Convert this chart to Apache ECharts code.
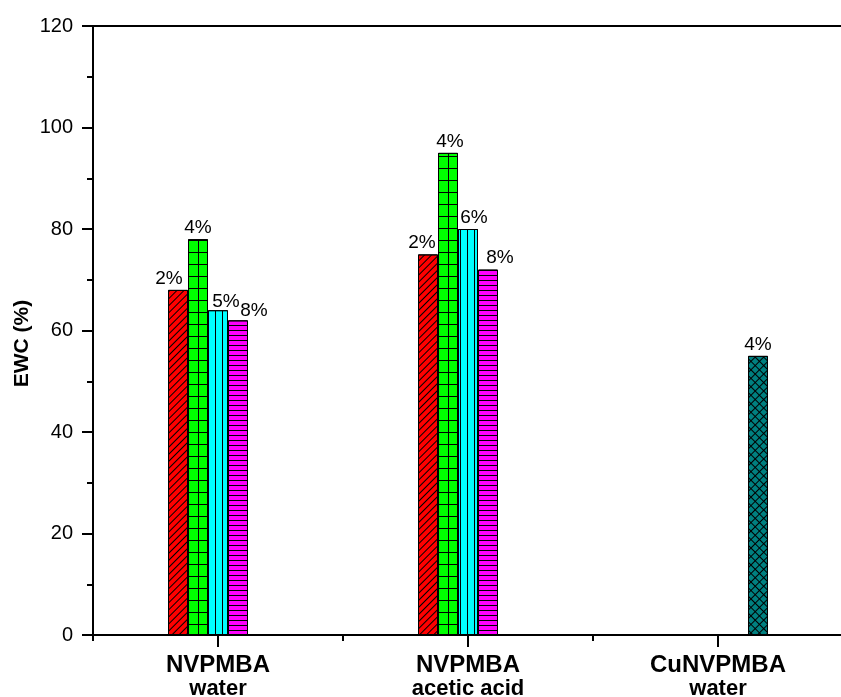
<!DOCTYPE html>
<html><head><meta charset="utf-8">
<script src="https://cdn.jsdelivr.net/npm/echarts@6/dist/echarts.min.js"></script>
<style>html,body{margin:0;padding:0;background:#fff}#c{width:841px;height:697px}</style>
</head><body><div id="c"></div>
<script>
// ---- data ----
const groupTicks = [1, 3, 5];
const groupNames = ['NVPMBA', 'NVPMBA', 'CuNVPMBA'];
const groupMedia = ['water', 'acetic acid', 'water'];
const yTicks = [0, 20, 40, 60, 80, 100, 120];

const redX = [0.68, 2.68];   const redY = [68, 75];   const redLabels = ['2%', '2%'];
const greenX = [0.84, 2.84]; const greenY = [78, 95]; const greenLabels = ['4%', '4%'];
const cyanX = [1.0, 3.0];    const cyanY = [64, 80];  const cyanLabels = ['5%', '6%'];
const magX = [1.16, 3.16];   const magY = [62, 72];   const magLabels = ['8%', '8%'];
const tealX = [5.32];        const tealY = [55];      const tealLabels = ['4%'];

// ---- styling ----
const FONT = "'Liberation Sans', Arial, sans-serif";
const labelShift = {
  red: [[-9, 0], [-6, 0]],
  green: [[0, 0], [2, 0]],
  cyan: [[8, 3], [6, 0]],
  mag: [[16, 2], [12, 0]],
  teal: [[0, 0]]
};

function mk(name, xs, ys, labels, color, decal, shifts) {
  return {
    type: 'bar', name: name, xAxisIndex: 0, yAxisIndex: 0,
    barWidth: 20, barGap: '-100%',
    itemStyle: { color: color, borderColor: '#000', borderWidth: 1, decal: decal },
    label: { show: true, position: 'top', distance: 2, color: '#000', fontSize: 19, fontFamily: FONT },
    data: xs.map((x, i) => ({ value: [x, ys[i]], label: { formatter: labels[i], offset: shifts[i] } }))
  };
}

const decalBase = { symbol: 'rect', symbolSize: 1, color: '#000', maxTileWidth: 512, maxTileHeight: 512 };
const decals = {
  red: Object.assign({}, decalBase, { dashArrayX: [1, 0], dashArrayY: [1, 4], rotation: -Math.PI / 4 }),
  green: Object.assign({}, decalBase, { dashArrayX: [[10, 0], [0, 8, 1, 1]], dashArrayY: [1, 0, 11, 0], rotation: 0 }),
  cyan: Object.assign({}, decalBase, { dashArrayX: [0, 5, 1, 1], dashArrayY: [1, 0], rotation: 0 }),
  mag: Object.assign({}, decalBase, { dashArrayX: [1, 0], dashArrayY: [1, 4], rotation: 0 }),
  teal: Object.assign({}, decalBase, { dashArrayX: [[6, 0], [1, 5]], dashArrayY: [1, 0, 5, 0], rotation: Math.PI / 4 })
};

const chart = echarts.init(document.getElementById('c'), null, { renderer: 'canvas' });
const axisLineStyle = { color: '#000', width: 2 };

chart.setOption({
  animation: false,
  backgroundColor: '#fff',
  grid: { left: 93, top: 26, right: -2, bottom: 62, show: false, containLabel: false, outerBoundsMode: 'none' },
  xAxis: [
    {
      type: 'value', min: 0, max: 6, interval: 1, position: 'bottom',
      axisLine: { show: false }, axisTick: { show: false }, splitLine: { show: false },
      axisLabel: {
        margin: 17, color: '#000', fontFamily: FONT,
        formatter: function (v) {
          const i = groupTicks.indexOf(Math.round(v));
          if (i < 0 || Math.abs(v - Math.round(v)) > 1e-6) return '';
          return '{a|' + groupNames[i] + '}\n{b|' + groupMedia[i] + '}';
        },
        rich: {
          a: { fontSize: 24, fontWeight: 'bold', fontFamily: FONT, color: '#000', lineHeight: 26 },
          b: { fontSize: 22, fontWeight: 'bold', fontFamily: FONT, color: '#000', lineHeight: 22 }
        }
      }
    },
    {
      type: 'value', min: 0, max: 6, interval: 2, position: 'bottom',
      axisLine: { show: true, lineStyle: axisLineStyle },
      axisTick: { show: true, inside: false, length: 6, lineStyle: axisLineStyle },
      minorTick: { show: true, splitNumber: 2, length: 12, lineStyle: axisLineStyle },
      axisLabel: { show: false }, splitLine: { show: false }
    },
    {
      type: 'value', min: 0, max: 6, position: 'top',
      axisLine: { show: true, lineStyle: axisLineStyle },
      axisTick: { show: false }, axisLabel: { show: false }, splitLine: { show: false }
    }
  ],
  yAxis: {
    type: 'value', min: yTicks[0], max: yTicks[yTicks.length - 1], interval: yTicks[1] - yTicks[0],
    name: 'EWC (%)', nameLocation: 'middle', nameGap: 60, nameMoveOverlap: false,
    nameTextStyle: { fontSize: 21, fontWeight: 'bold', fontFamily: FONT, color: '#000', padding: [0, 26, 0, 0] },
    axisLine: { show: true, lineStyle: axisLineStyle },
    axisTick: { show: true, inside: false, length: 11, lineStyle: axisLineStyle },
    minorTick: { show: true, splitNumber: 2, length: 6, lineStyle: axisLineStyle },
    splitLine: { show: false },
    axisLabel: { fontSize: 20, color: '#000', fontFamily: FONT, margin: 20 }
  },
  series: [
    mk('red', redX, redY, redLabels, '#FF0000', decals.red, labelShift.red),
    mk('green', greenX, greenY, greenLabels, '#00FF00', decals.green, labelShift.green),
    mk('cyan', cyanX, cyanY, cyanLabels, '#00FFFF', decals.cyan, labelShift.cyan),
    mk('mag', magX, magY, magLabels, '#FF00FF', decals.mag, labelShift.mag),
    mk('teal', tealX, tealY, tealLabels, '#008080', decals.teal, labelShift.teal)
  ]
});
</script>
</body></html>
